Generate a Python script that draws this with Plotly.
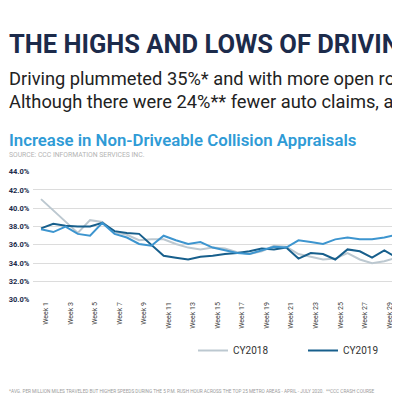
import plotly.graph_objects as go

weeks = [f"Week {i}" for i in range(1, 31)]
tick_weeks = [f"Week {i}" for i in range(1, 31, 2)]

cy2018 = [41.0, 39.8, 38.6, 37.3, 38.7, 38.5, 37.4, 37.1, 36.5, 36.6,
          36.6, 36.1, 35.7, 35.5, 35.7, 35.6, 35.2, 35.0, 35.3, 35.9,
          35.8, 35.0, 34.7, 34.4, 34.5, 35.1, 34.4, 34.0, 34.2, 34.6]
cy2019 = [37.8, 38.3, 38.1, 38.0, 38.0, 38.4, 37.5, 37.3, 37.2, 36.0,
          34.8, 34.6, 34.4, 34.7, 34.8, 35.0, 35.1, 35.3, 35.6, 35.5,
          35.7, 34.5, 35.1, 35.0, 34.4, 35.5, 35.3, 34.6, 35.4, 34.6]
cy2020 = [37.7, 37.4, 38.0, 37.2, 37.0, 38.4, 37.2, 36.8, 36.1, 35.9,
          37.0, 36.5, 36.1, 36.3, 35.7, 35.4, 35.1, 35.0, 35.4, 35.8,
          35.7, 36.5, 36.3, 36.1, 36.6, 36.8, 36.6, 36.6, 36.8, 37.1]

series_names = ["CY2018", "CY2019", "CY2020"]
series_colors = ["#bcc8d0", "#175f8c", "#3d95cf"]

title_text = "THE HIGHS AND LOWS OF DRIVING"
sub1_text = "Driving plummeted 35%* and with more open roads"
sub2_text = "Although there were 24%** fewer auto claims, an"
chart_title = "Increase in Non-Driveable Collision Appraisals"
source_text = "SOURCE: CCC INFORMATION SERVICES INC."
footnote_text = ("*AVG. PER MILLION MILES TRAVELED BUT HIGHER SPEEDS DURING THE 5 P.M. RUSH HOUR "
                 "ACROSS THE TOP 25 METRO AREAS - APRIL - JULY 2020.  **CCC CRASH COURSE")

# page has an 8px body margin; figure is sized to fill the rest of the window
OFF = 8
W, H = 392, 392


def fx(p):
    return (p - OFF) / W


def fy(p):
    return 1 - (p - OFF) / H


fig = go.Figure()
for name, vals, col in zip(series_names, [cy2018, cy2019, cy2020], series_colors):
    fig.add_trace(go.Scatter(x=weeks, y=vals, mode="lines", name=name,
                             line=dict(color=col, width=2)))

fig.update_layout(
    width=W, height=H,
    margin=dict(l=0, r=0, t=0, b=0, autoexpand=False),
    paper_bgcolor="white", plot_bgcolor="white",
    font=dict(family="Roboto, sans-serif"),
    showlegend=True,
    legend=dict(orientation="h", x=fx(193), xanchor="left",
                y=fy(350.5), yanchor="middle",
                font=dict(size=10, color="#333333"),
                entrywidth=65, entrywidthmode="pixels",
                bgcolor="rgba(0,0,0,0)"),
    xaxis=dict(type="category", categoryorder="array", categoryarray=weeks,
               domain=[fx(33.3), 1], range=[-0.63, 29.28],
               showgrid=False, zeroline=False, showline=False,
               tickmode="array", tickvals=tick_weeks, ticktext=tick_weeks,
               tickangle=-90, tickfont=dict(size=7, color="#404040"),
               ticklabelshift=5),
    yaxis=dict(range=[30, 44], dtick=2, tick0=30,
               domain=[fy(299.7), fy(171.7)],
               gridcolor="#dcdcdc", gridwidth=1, zeroline=False, showline=False,
               ticksuffix="%", tickformat=".1f",
               tickfont=dict(size=7.5, color="#1c2b4b", weight="bold"),
               ticklabelstandoff=3),
)

annos = [
    dict(text=title_text, x=fx(8), y=fy(43.5), font=dict(size=25.5, color="#1c2b4b", weight="bold")),
    dict(text=sub1_text, x=fx(8), y=fy(78), font=dict(size=18.3, color="#222222")),
    dict(text=sub2_text, x=fx(8), y=fy(101.5), font=dict(size=18.3, color="#222222")),
    dict(text=chart_title, x=fx(8), y=fy(139.5), font=dict(size=16.8, color="#2f9bd6", weight=600)),
    dict(text=source_text, x=fx(8), y=fy(154.5), font=dict(size=6.8, color="#b3b3b3")),
    dict(text=footnote_text, x=fx(8), y=fy(391), font=dict(size=4.7, color="#9a9a9a")),
]
for a in annos:
    fig.add_annotation(xref="paper", yref="paper", xanchor="left", yanchor="middle",
                       showarrow=False, borderpad=0, **a)

fig.write_html("out.html")
